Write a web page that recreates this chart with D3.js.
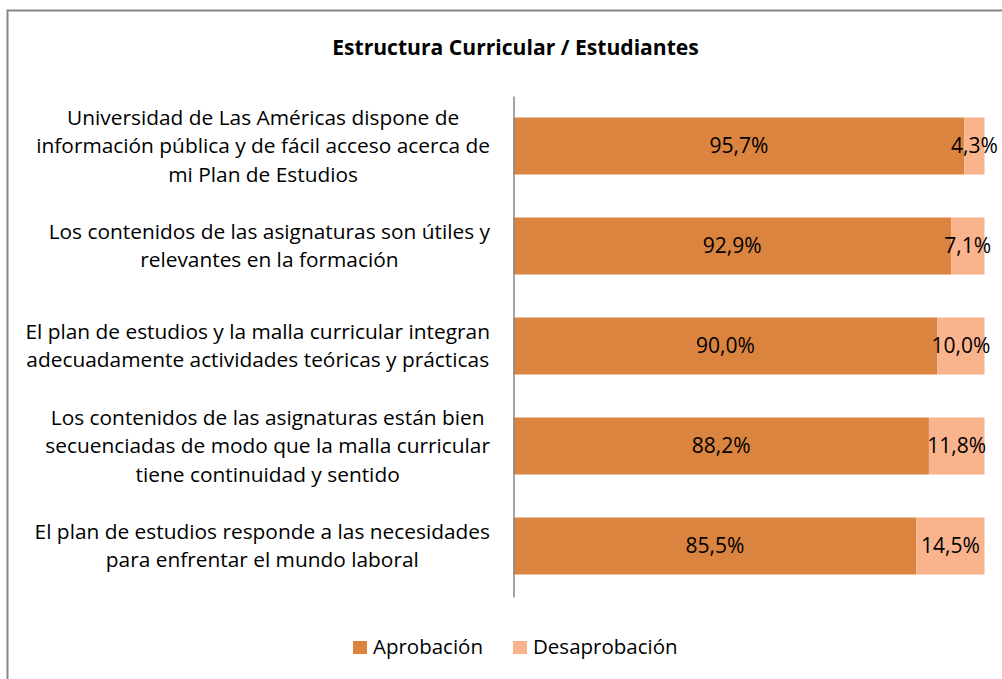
<!DOCTYPE html>
<html>
<head>
<meta charset="utf-8">
<script src="https://cdn.jsdelivr.net/npm/d3@7"></script>
<style>
  html, body { margin: 0; padding: 0; background: #fff; }
  svg { display: block; }
  text { font-family: "Open Sans", "Noto Sans", sans-serif; fill: #000; }
</style>
</head>
<body>
<svg id="chart" width="1002" height="679"></svg>
<script>
// ---- data ----
const title = "Estructura Curricular / Estudiantes";
const categories = [
  ["Universidad de Las Américas dispone de", "información pública y de fácil acceso acerca de", "mi Plan de Estudios"],
  ["Los contenidos de las asignaturas son útiles y", "relevantes en la formación"],
  ["El plan de estudios y la malla curricular integran", "adecuadamente actividades teóricas y prácticas"],
  ["Los contenidos de las asignaturas están bien", "secuenciadas de modo que la malla curricular", "tiene continuidad y sentido"],
  ["El plan de estudios responde a las necesidades", "para enfrentar el mundo laboral"]
];
const seriesNames = ["Aprobación", "Desaprobación"];
const aprobacion = [95.7, 92.9, 90.0, 88.2, 85.5];
const desaprobacion = [4.3, 7.1, 10.0, 11.8, 14.5];
const colors = ["#DB843F", "#F9B48E"];

const svg = d3.select("#chart");
const fmt = v => d3.format(".1f")(v).replace(".", ",") + "%";

// measure helper for fitting font sizes to the reference
function fitSize(str, target, weight) {
  const t = svg.append("text").attr("font-size", 100).attr("font-weight", weight || "normal").text(str);
  const w = t.node().getComputedTextLength();
  t.remove();
  return 100 * target / w;
}
const labelSize = fitSize("información pública y de fácil acceso acerca de", 454);
const valueSize = fitSize("95,7%", 59);
const titleSize = fitSize(title, 367, "bold");
const legendSize = fitSize("Aprobación", 110);

// outer border
svg.append("rect")
  .attr("x", 7.5).attr("y", 10.5).attr("width", 1100).attr("height", 700)
  .attr("fill", "none").attr("stroke", "#868686").attr("stroke-width", 2);

// title
svg.append("text")
  .attr("x", 515.5).attr("y", 55)
  .attr("text-anchor", "middle")
  .attr("font-weight", "bold")
  .attr("font-size", titleSize)
  .text(title);

// scales
const x = d3.scaleLinear().domain([0, 100]).range([513.5, 984.5]);
const y = d3.scaleBand().domain(d3.range(categories.length)).range([96, 596]).paddingInner(0.43).paddingOuter(0.215);

const stackData = categories.map((c, i) => ({ i, a: aprobacion[i], d: desaprobacion[i] }));
const stack = d3.stack().keys(["a", "d"])(stackData);

const g = svg.append("g");
stack.forEach((layer, k) => {
  g.selectAll(null).data(layer).enter().append("rect")
    .attr("x", d => x(d[0]))
    .attr("width", d => x(d[1]) - x(d[0]))
    .attr("y", d => y(d.data.i))
    .attr("height", y.bandwidth())
    .attr("fill", colors[k]);
  g.selectAll(null).data(layer).enter().append("text")
    .attr("x", d => (x(d[0]) + x(d[1])) / 2)
    .attr("y", d => y(d.data.i) + y.bandwidth() / 2 + 7)
    .attr("text-anchor", "middle")
    .attr("font-size", valueSize)
    .text(d => fmt(d[1] - d[0]));
});

// vertical axis line
svg.append("g")
  .attr("transform", "translate(513.5,0)")
  .call(d3.axisLeft(d3.scaleLinear().range([96, 597])).ticks(0).tickSize(0).tickFormat(""))
  .call(a => a.select(".domain").attr("stroke", "#868686").attr("stroke-width", 1.5));

// category labels (lines centered on the widest line, right edge at 490)
const lineH = 28.5;
categories.forEach((lines, i) => {
  const cy = y(i) + y.bandwidth() / 2;
  const grp = svg.append("g");
  const texts = lines.map((ln, j) => grp.append("text")
    .attr("font-size", labelSize)
    .attr("text-anchor", "middle")
    .attr("y", cy + 7 + (j - (lines.length - 1) / 2) * lineH)
    .text(ln));
  const maxW = d3.max(texts, t => t.node().getComputedTextLength());
  texts.forEach(t => t.attr("x", 490 - maxW / 2));
});

// legend
const legendX = [353, 513];
seriesNames.forEach((name, k) => {
  svg.append("rect")
    .attr("x", legendX[k]).attr("y", 641).attr("width", 14).attr("height", 13)
    .attr("fill", colors[k]);
  svg.append("text")
    .attr("x", legendX[k] + 20).attr("y", 654)
    .attr("font-size", legendSize)
    .text(name);
});
</script>
</body>
</html>
